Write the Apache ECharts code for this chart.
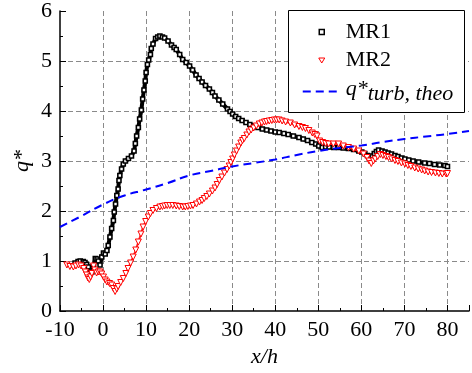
<!DOCTYPE html>
<html>
<head>
<meta charset="utf-8">
<script src="https://cdn.jsdelivr.net/npm/echarts@6/dist/echarts.min.js"></script>
<style>html,body{margin:0;padding:0;background:#fff;}#c{width:472px;height:373px;}</style>
</head>
<body>
<div id="c"></div>
<script>
var mr1X = [-6.5,-5.8,-5.3,-4.6,-4.2,-3.8,-3.4,-3.0,-2.6,-2.2,-1.8,-1.4,-1.1,-0.7,-0.3,0.1,0.5,0.9,1.2,1.6,2.0,2.4,2.6,2.9,3.2,3.5,3.7,3.9,4.3,4.7,5.2,5.9,6.6,7.2,7.5,7.8,8.2,8.5,8.9,9.2,9.5,9.8,10.0,10.3,10.6,11.0,11.2,11.6,12.2,12.7,13.2,13.8,14.3,15.1,15.9,16.5,17.0,17.8,18.5,19.3,20.1,20.8,21.6,22.3,23.0,23.8,24.7,25.4,26.0,26.9,27.8,28.9,29.5,30.1,30.8,31.5,32.3,33.2,34.1,35.0,36.0,37.0,38.0,39.0,40.0,40.9,42.0,43.0,44.2,45.5,46.5,47.5,48.5,49.4,50.1,50.9,51.7,52.5,53.6,54.7,55.8,57.0,58.2,59.4,60.1,60.8,61.4,62.0,62.5,63.0,63.5,64.0,64.8,65.5,66.2,67.0,67.8,68.5,69.3,70.1,71.0,72.0,73.3,74.7,75.8,77.0,78.2,79.4,80.0];
var mr1Y = [0.96,0.99,1.0,0.99,0.97,0.93,0.88,0.8,0.78,0.9,1.05,1.04,1.0,0.92,1.08,1.16,1.14,1.21,1.31,1.48,1.65,1.81,1.98,2.14,2.31,2.44,2.61,2.71,2.84,2.94,3.0,3.05,3.1,3.2,3.35,3.5,3.67,3.84,4.02,4.24,4.42,4.6,4.77,4.93,5.02,5.13,5.25,5.34,5.45,5.48,5.5,5.48,5.46,5.4,5.32,5.27,5.23,5.13,5.03,4.97,4.9,4.82,4.72,4.65,4.58,4.51,4.44,4.37,4.3,4.22,4.14,4.04,3.99,3.94,3.89,3.85,3.81,3.77,3.73,3.7,3.67,3.64,3.62,3.6,3.58,3.57,3.55,3.53,3.5,3.47,3.44,3.41,3.37,3.34,3.3,3.27,3.28,3.28,3.27,3.27,3.26,3.25,3.23,3.2,3.18,3.15,3.11,3.07,3.1,3.15,3.19,3.22,3.2,3.18,3.16,3.14,3.11,3.09,3.06,3.04,3.02,3.0,2.98,2.96,2.95,2.93,2.92,2.91,2.89];
var mr2X = [-8.4,-7.7,-6.9,-6.3,-5.7,-5.1,-4.5,-4.1,-3.8,-3.5,-3.2,-2.9,-2.6,-2.2,-1.9,-1.5,-1.1,-0.7,-0.3,0.1,0.5,0.9,1.5,2.0,2.4,2.8,3.2,3.5,4.1,4.7,5.3,5.8,6.4,7.0,7.6,8.2,8.8,9.3,9.9,10.5,11.0,11.6,12.4,13.2,13.8,14.3,14.9,15.5,16.2,17.0,17.7,18.5,19.1,19.7,20.3,20.9,21.7,22.4,23.0,23.5,24.1,24.7,25.4,26.0,26.5,27.0,27.6,28.2,28.8,29.3,29.7,30.1,30.5,31.0,31.5,32.0,32.4,32.8,33.4,33.9,34.4,35.0,35.6,36.3,36.9,37.5,38.0,38.6,39.2,39.8,40.3,40.9,41.6,42.4,43.5,44.5,45.5,46.3,47.0,47.8,48.6,49.2,49.7,50.3,51.0,51.7,52.4,53.5,54.7,55.8,57.0,58.2,59.4,60.5,61.3,61.8,62.3,62.8,63.2,63.8,64.4,65.0,65.7,66.3,67.0,67.8,68.5,69.3,70.1,70.8,71.5,72.4,73.2,74.0,74.7,75.5,76.3,77.2,78.0,78.8,79.7,80.0];
var mr2Y = [0.92,0.89,0.88,0.9,0.92,0.9,0.85,0.78,0.72,0.66,0.63,0.68,0.75,0.9,0.82,0.76,0.78,0.78,0.74,0.68,0.62,0.58,0.55,0.52,0.45,0.39,0.44,0.49,0.57,0.65,0.75,0.85,0.96,1.08,1.22,1.38,1.54,1.68,1.79,1.88,1.95,2.01,2.05,2.08,2.09,2.1,2.11,2.11,2.11,2.1,2.09,2.08,2.08,2.09,2.1,2.11,2.14,2.18,2.21,2.25,2.29,2.34,2.4,2.46,2.53,2.61,2.68,2.76,2.83,2.9,2.97,3.04,3.12,3.2,3.28,3.36,3.41,3.45,3.52,3.58,3.62,3.66,3.7,3.74,3.76,3.78,3.79,3.8,3.81,3.82,3.82,3.82,3.8,3.78,3.76,3.72,3.69,3.67,3.65,3.61,3.56,3.53,3.5,3.4,3.37,3.35,3.34,3.34,3.34,3.3,3.27,3.24,3.2,3.14,3.07,3.0,2.95,3.0,3.04,3.09,3.13,3.11,3.09,3.07,3.04,3.01,2.99,2.96,2.94,2.91,2.89,2.86,2.84,2.82,2.8,2.78,2.77,2.76,2.75,2.74,2.74,2.75];
var theoX = [-10,-5,0,5,10,15,20,25,30,35,40,45,50,55,60,65,70,75,80,85];
var theoY = [1.68,1.9,2.13,2.31,2.43,2.56,2.71,2.8,2.89,2.96,3.03,3.12,3.2,3.26,3.31,3.38,3.44,3.49,3.54,3.6];
var xTicks = [-10,0,10,20,30,40,50,60,70,80];
var yTicks = [0,1,2,3,4,5,6];

function pairs(a, b) { return a.map(function (v, i) { return [v, b[i]]; }); }
var FONT = 'Liberation Serif';
var chart = echarts.init(document.getElementById('c'));
var axisCommon = {
  axisLine: { show: true, onZero: false, lineStyle: { color: '#000', width: 1.5 } },
  axisTick: { show: true, inside: true, length: 6, lineStyle: { color: '#000', width: 1 } },
  minorTick: { show: true, splitNumber: 2, length: 3, lineStyle: { color: '#000', width: 1 } },
  splitLine: { show: true, showMinLine: false, showMaxLine: false, lineStyle: { color: '#8a8a8a', type: [5, 3], width: 1 } },
  axisLabel: { color: '#000', fontFamily: FONT, fontSize: 22 },
  nameTextStyle: { color: '#000', fontFamily: FONT, fontSize: 22, fontStyle: 'italic' },
  nameLocation: 'middle',
  nameMoveOverlap: false
};
chart.setOption({
  animation: false,
  textStyle: { fontFamily: FONT },
  grid: { left: 60, right: 1, top: 10, bottom: 62, containLabel: false },
  xAxis: Object.assign({}, axisCommon, {
    type: 'value', min: -10, max: 85, interval: 10,
    name: 'x/h', nameGap: 35,
    axisLabel: Object.assign({}, axisCommon.axisLabel, { margin: 8, formatter: function (v) { return xTicks.indexOf(v) >= 0 ? String(v) : ''; } })
  }),
  yAxis: Object.assign({}, axisCommon, {
    type: 'value', min: 0, max: 6, interval: 1,
    name: 'q*', nameGap: 27,
    axisLabel: Object.assign({}, axisCommon.axisLabel, { margin: 8, formatter: function (v) { return yTicks.indexOf(v) >= 0 ? String(v) : ''; } })
  }),
  graphic: { elements: [{ type: 'rect', z: 3, shape: { x: 288.5, y: 10.5, width: 176, height: 102 }, style: { fill: '#fff', stroke: '#000', lineWidth: 1 } }] },
  legend: {
    z: 5, orient: 'vertical', left: 302, top: 21, padding: 0, itemWidth: 38, itemHeight: 5, itemGap: 6.5, itemTextGap: 5,
    textStyle: { color: '#000', fontFamily: FONT, fontSize: 22, lineHeight: 22,
      rich: { a: { fontFamily: FONT, fontSize: 22, fontStyle: 'italic', lineHeight: 22, verticalAlign: 'top' },
              b: { fontFamily: FONT, fontSize: 22, fontStyle: 'italic', lineHeight: 27, verticalAlign: 'bottom' } } },
    formatter: function (n) { return n === 'q*turb, theo' ? '{a|q*}{b|turb, theo}' : n; },
    data: [
      { name: 'MR1', icon: 'path://M0,0M38,5M16.5,0h5v5h-5z', itemStyle: { color: '#fff', borderColor: '#000', borderWidth: 1.5 } },
      { name: 'MR2', icon: 'path://M0,0M38,5M16,0h6l-3,5z', itemStyle: { color: '#fff', borderColor: '#ff0000', borderWidth: 1 } },
      { name: 'q*turb, theo', icon: 'path://M0,0h8v2h-8z M13,0h8v2h-8z M26,0h8v2h-8z M38,2', itemStyle: { color: '#0000ff', borderWidth: 0 } }
    ]
  },
  series: [
    { name: 'MR1band', type: 'line', data: pairs(mr1X, mr1Y), symbol: 'none', lineStyle: { color: '#000', width: 4 }, z: 2 },
    { name: 'MR1', type: 'scatter', data: pairs(mr1X, mr1Y), symbol: 'rect', symbolSize: 4, itemStyle: { color: '#fff', borderColor: '#000', borderWidth: 1.6, opacity: 1 }, z: 2 },
    { name: 'MR2band', type: 'line', data: pairs(mr2X, mr2Y), symbol: 'none', lineStyle: { color: '#ff2020', width: 2 }, z: 3 },
    { name: 'MR2', type: 'scatter', data: pairs(mr2X, mr2Y), symbol: 'triangle', symbolRotate: 180, symbolSize: 6, itemStyle: { color: '#fff', borderColor: '#ff0000', borderWidth: 1, opacity: 1 }, z: 3 },
    { name: 'q*turb, theo', type: 'line', data: pairs(theoX, theoY), smooth: true, symbol: 'none', lineStyle: { color: '#0000ff', width: 2, type: [8, 5] }, z: 4 }
  ]
});
</script>
</body>
</html>
